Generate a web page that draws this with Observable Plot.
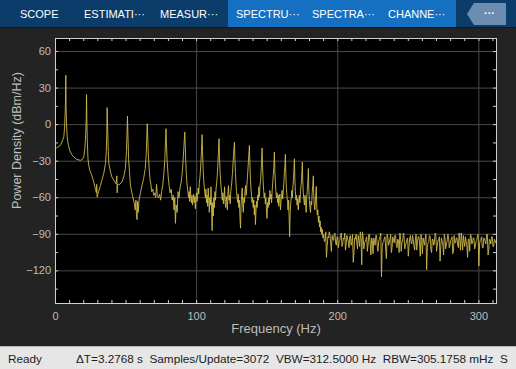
<!DOCTYPE html>
<html><head><meta charset="utf-8">
<script src="https://cdn.jsdelivr.net/npm/d3@7"></script>
<script src="https://cdn.jsdelivr.net/npm/@observablehq/plot@0.6"></script>
<style>
html,body{margin:0;padding:0;background:#232323;width:516px;height:369px;overflow:hidden;font-family:"Liberation Sans",Arial,sans-serif;}
#toolbar{position:relative;height:27px;background:#0c3c69;border-bottom:1px solid #161616;}
#active{position:absolute;left:228px;top:0;width:228px;height:27px;background:#1570c2;}
.tab{position:absolute;top:0;height:27px;line-height:28px;color:#fff;font-size:11px;white-space:nowrap;}
#more{position:absolute;left:467px;top:3px;width:39px;height:22px;background:#6d8db0;clip-path:polygon(0 50%,18% 0,100% 0,100% 100%,18% 100%);color:#fff;font-size:11px;font-weight:bold;line-height:21px;text-align:center;text-indent:6px;}
#chart{height:318px;}
#chart svg{display:block;}
#status{position:relative;height:22px;background:#e6e6e6;border-top:1px solid #b9b9b9;font-size:11.75px;color:#1c1c1c;white-space:pre;overflow:hidden;}
#status span{position:absolute;top:0;line-height:23px;}
</style></head>
<body>
<div id="toolbar">
  <div id="active"></div>
  <span class="tab" style="left:20px">SCOPE</span>
  <span class="tab" style="left:84px">ESTIMATI···</span>
  <span class="tab" style="left:160px">MEASUR···</span>
  <span class="tab" style="left:236px">SPECTRU···</span>
  <span class="tab" style="left:312px">SPECTRA···</span>
  <span class="tab" style="left:388px">CHANNE···</span>
  <div id="more">···</div>
</div>
<div id="chart"></div>
<div id="status"><span style="left:8px">Ready</span><span style="left:76px">ΔT=3.2768 s  Samples/Update=3072  VBW=312.5000 Hz  RBW=305.1758 mHz  S</span></div>
<script>
// Spectrum: [frequency Hz, power density dBm/Hz]
const segA = [[0,-19.5],[0.7,-19],[2,-18.2],[3.5,-17],[4.5,-14.5],[5.3,-12],[5.9,-10],[6.4,-3],[6.8,8],[7.1,20],[7.3,40.5],[7.5,15],[7.8,0],[8.3,-10],[9,-16],[10,-21],[11.5,-24.5],[13,-26.6],[15,-28.5],[17.7,-29.3],[19,-28.5],[20,-26.6],[20.8,-20],[21.4,-8],[21.8,6],[22,24.7],[22.2,5],[22.5,-12],[23,-28],[23.5,-33],[24.3,-37.6],[25.5,-41],[27.1,-47],[28.3,-53],[29,-56],[29.2,-49],[29.5,-59.5],[30.5,-55],[31.9,-50],[33,-45],[34.2,-40],[35.4,-32],[36,-22],[36.3,-8],[36.6,14],[37,-4],[37.4,-22],[37.8,-32],[39,-39],[40,-43],[41.5,-46],[43,-48.5],[43.5,-42],[43.7,-56],[44,-49],[45.5,-49],[47.2,-47],[48.5,-42],[49.5,-36],[50.3,-22],[50.7,-6],[51,7],[51.3,-8],[51.8,-28],[52.5,-40],[53.1,-50],[54.5,-58],[55.7,-64],[56.5,-70],[57,-62],[57.4,-75],[57.8,-78],[58.2,-63],[58.6,-72],[59.2,-62],[60.2,-56],[61.3,-50],[62.5,-44],[63.6,-36],[64.3,-24],[64.7,-10],[65,0.8]];
const segB = [[65.3,-8],[65.7,-22],[66.3,-35],[67,-45],[67.6,-49],[68.2,-55],[69,-53],[69.6,-58],[70.3,-56],[71,-60],[71.6,-49],[72.2,-58],[73,-60],[73.8,-57],[74.5,-62],[75.2,-55],[76,-50],[76.8,-40],[77.5,-28],[78,-12],[78.3,-3.3],[78.6,-14],[79.1,-30],[79.8,-42],[80.5,-50],[81.2,-56],[82,-53],[82.7,-62],[83.4,-58],[84,-70],[84.5,-60],[85,-81],[85.5,-66],[86.2,-72],[86.8,-55],[87.5,-60],[88.2,-52],[88.9,-48],[89.6,-42],[90.3,-32],[91,-18],[91.6,-6],
[91.9,-16],[92.3,-30],[92.7,-40],[93.1,-47],[93.5,-52],[93.9,-56],[94.3,-60],[94.7,-55],[95.1,-63],[95.5,-51],[95.9,-60],[96.3,-64],[96.7,-58],[97.1,-66],[97.5,-61],[97.9,-57],[98.3,-64],[98.7,-59],[99.1,-69],[99.5,-60],[99.9,-56],[100.3,-63],[100.7,-58],[101.1,-52],[101.5,-57],[101.9,-48],[102.3,-44],[102.7,-38],[103.1,-30],[103.5,-20],[103.9,-8.2],
[104.2,-22],[104.6,-36],[105,-45],[105.4,-51],[105.8,-56],[106.2,-60],[106.6,-53],[107,-64],[107.4,-58],[107.8,-67],[108.2,-52],[108.6,-62],[109,-72],[109.4,-60],[109.8,-66],[110.2,-51],[110.6,-70],[111,-87],[111.4,-64],[111.8,-75],[112.2,-60],[112.6,-68],[113,-55],[113.4,-62],[113.8,-52],[114.2,-48],[114.6,-42],[115,-34],[115.4,-24],[115.9,-11.5],
[116.2,-26],[116.6,-38],[117,-46],[117.4,-52],[117.8,-57],[118.2,-62],[118.6,-56],[119,-65],[119.4,-60],[119.8,-51],[120.2,-64],[120.6,-68],[121,-59],[121.4,-63],[121.8,-70],[122.2,-55],[122.6,-50],[123,-62],[123.4,-58],[123.8,-65],[124.2,-55],[124.6,-51],[125,-46],[125.4,-40],[125.8,-32],[126.2,-24],[126.8,-14.3],
[127.1,-27],[127.5,-40],[127.9,-48],[128.3,-55],[128.7,-60],[129.1,-64],[129.5,-57],[129.9,-68],[130.3,-62],[130.7,-76],[131.1,-85],[131.5,-66],[131.9,-58],[132.3,-52],[132.7,-66],[133.1,-72],[133.5,-60],[133.9,-64],[134.3,-55],[134.7,-50],[135.1,-58],[135.5,-52],[135.9,-45],[136.3,-38],[136.7,-30],[137.4,-17]];
const segC = [[137.7,-30],[138.1,-44],[138.5,-52],[138.9,-58],[139.3,-64],[139.7,-60],[140.1,-68],[140.5,-62],[140.9,-74],[141.3,-66],[141.7,-82],[142.1,-70],[142.5,-63],[142.9,-68],[143.3,-58],[143.7,-62],[144.1,-51],[144.5,-59],[144.9,-50],[145.3,-46],[145.7,-38],[146,-30],[146.4,-19.2],
[146.7,-33],[147.1,-46],[147.5,-54],[147.9,-60],[148.3,-56],[148.7,-65],[149.1,-60],[149.5,-71],[149.9,-77],[150.3,-64],[150.7,-68],[151.1,-60],[151.5,-66],[151.9,-54],[152.3,-61],[152.7,-57],[153.1,-64],[153.5,-55],[153.9,-48],[154.3,-42],[154.7,-35],[155.1,-22.5],
[155.4,-37],[155.8,-48],[156.2,-55],[156.6,-60],[157,-56],[157.4,-64],[157.8,-58],[158.2,-67],[158.6,-60],[159,-57],[159.4,-70],[159.8,-63],[160.2,-58],[160.6,-54],[161,-61],[161.4,-55],[161.8,-48],[162.2,-40],[162.6,-33],[162.9,-24.4],
[163.2,-40],[163.6,-52],[164,-58],[164.4,-64],[164.8,-70],[165.2,-62],[165.6,-78],[165.9,-92],[166.3,-72],[166.7,-64],[167.1,-60],[167.5,-54],[167.9,-60],[168.3,-50],[168.7,-44],[169,-36],[169.3,-28],
[169.6,-44],[170,-55],[170.4,-62],[170.8,-58],[171.2,-66],[171.6,-61],[172,-70],[172.4,-63],[172.8,-58],[173.2,-64],[173.6,-55],[174,-50],[174.4,-44],[174.9,-30.7],
[175.2,-46],[175.6,-56],[176,-62],[176.4,-66],[176.8,-58],[177.2,-64],[177.6,-72],[178,-60],[178.4,-54],[178.8,-46],[179.2,-36],
[179.5,-52],[179.9,-62],[180.3,-68],[180.7,-72],[181.1,-63],[181.5,-66],[181.9,-56],[182.3,-50],[182.7,-42],
[183,-58],[183.4,-66],[183.8,-70],[184.2,-62],[184.5,-56],[184.8,-50.7],
[185.1,-66],[185.5,-74],[185.9,-70],[186.3,-80],[186.7,-75],[187.1,-84],[187.5,-79],[187.9,-88],[188.3,-84],[188.7,-90],[189.1,-86],[189.5,-93]];
// noise floor: readings at whole-Hz bins from 190 Hz, and at the half-Hz bins between them
const floorStartHz = 190;
const floorDb = [-90,-95,-109,-92,-88,-97,-91,-95,-89,-99,-92,-96,-90,-100,-93,-89,-98,-94,-101,-91,-96,-113,-93,-90,-102,-95,-88,-115,-92,-97,-94,-104,-90,-98,-93,-106,-95,-91,-100,-96,-92,-125,-97,-93,-103,-90,-99,-94,-105,-92,-97,-91,-101,-95,-89,-104,-96,-92,-99,-94,-108,-93,-97,-91,-100,-95,-103,-92,-98,-90,-106,-96,-93,-119,-97,-91,-102,-94,-99,-89,-104,-95,-92,-100,-96,-107,-93,-98,-90,-101,-95,-92,-104,-97,-93,-99,-89,-103,-95,-91,-100,-96,-109,-94,-90,-98,-93,-102,-96,-91,-116,-95,-92,-101,-94,-98,-90,-103,-95,-92,-100,-94,-97];
const floorDbHalf = [-96,-88,-100,-93,-91,-104,-94,-90,-97,-92,-101,-95,-89,-98,-94,-103,-91,-96,-92,-99,-90,-105,-94,-97,-91,-100,-93,-88,-102,-96,-92,-98,-90,-107,-95,-93,-99,-91,-104,-94,-89,-100,-96,-92,-110,-93,-97,-90,-101,-95,-91,-99,-94,-105,-92,-96,-89,-102,-97,-93,-100,-91,-98,-94,-103,-90,-96,-92,-108,-95,-93,-99,-90,-101,-96,-92,-105,-94,-97,-91,-100,-95,-112,-93,-98,-90,-102,-96,-92,-99,-94,-106,-91,-97,-93,-101,-95,-89,-103,-96,-92,-99,-94,-104,-91,-97,-93,-100,-95,-90,-98,-94,-101,-93,-96,-90,-107,-94,-98,-92,-100,-95];

const xTicks = [0, 100, 200, 300];
const yTicks = [60, 30, 0, -30, -60, -90, -120];
const xMinor = d3.range(0, 311, 10);
const yMinor = d3.range(-135, 61, 15);
const xDomain = [0, 312.5];
const yDomain = [-146.8, 70.7];

const spectrum = [...segA, ...segB, ...segC].map(([hz, db]) => ({hz, db}));
floorDb.forEach((db, i) => {
  spectrum.push({hz: floorStartHz + i, db});
  if (i < floorDbHalf.length) spectrum.push({hz: floorStartHz + i + 0.5, db: floorDbHalf[i]});
});

const W = 516, H = 318, mL = 55, mR = 20, mT = 10, mB = 43;
const fw = W - mL - mR, fh = H - mT - mB, tl = 3;
const ink = "#bdbdbd", grid = "#4a4a4a", tickCol = "#cfcfcf";

const chart = Plot.plot({
  width: W, height: H,
  marginLeft: mL, marginRight: mR, marginTop: mT, marginBottom: mB,
  style: {background: "transparent", color: ink, fontFamily: "Liberation Sans, Arial, sans-serif", fontSize: "11px"},
  x: {domain: xDomain},
  y: {domain: yDomain},
  marks: [
    Plot.frame({fill: "#000"}),
    Plot.ruleX(xTicks, {stroke: grid, strokeWidth: 1}),
    Plot.ruleY(yTicks, {stroke: grid, strokeWidth: 1}),
    Plot.line(spectrum, {x: "hz", y: "db", stroke: "#cdb94b", strokeWidth: 0.9, clip: true}),
    Plot.tickX(xMinor, {x: d => d, insetTop: fh - tl, stroke: tickCol}),
    Plot.tickX(xMinor, {x: d => d, insetBottom: fh - tl, stroke: tickCol}),
    Plot.tickY(yMinor, {y: d => d, insetRight: fw - tl, stroke: tickCol}),
    Plot.tickY(yMinor, {y: d => d, insetLeft: fw - tl, stroke: tickCol}),
    Plot.frame({stroke: tickCol, strokeWidth: 1}),
    Plot.axisX({ticks: xTicks, tickSize: 0, tickPadding: 9, label: null, fill: ink}),
    Plot.axisY({ticks: yTicks, tickSize: 0, tickPadding: 4.5, label: null, fill: ink}),
    Plot.text(["Power Density (dBm/Hz)"], {text: d => d, frameAnchor: "left", textAnchor: "middle", rotate: -90, dx: -39, dy: -30.5, fontSize: 12.5, fill: ink}),
    Plot.text(["Frequency (Hz)"], {text: d => d, frameAnchor: "bottom", textAnchor: "middle", dy: 29, fontSize: 13, fill: ink})
  ]
});
document.getElementById("chart").append(chart);
</script>
</body></html>
